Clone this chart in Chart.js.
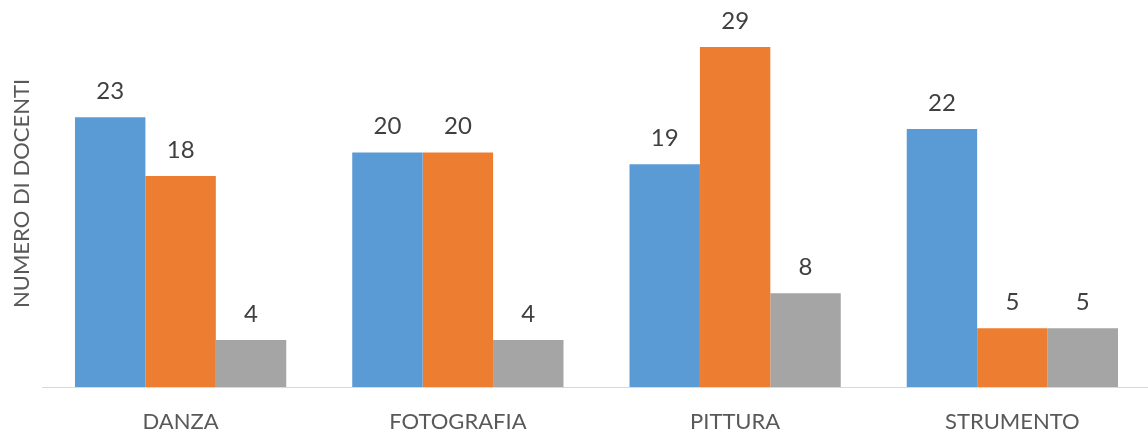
<!DOCTYPE html>
<html>
<head>
<meta charset="utf-8">
<script src="https://cdn.jsdelivr.net/npm/chart.js@4/dist/chart.umd.min.js"></script>
<style>
  html, body { margin: 0; padding: 0; background: #fff; overflow: hidden; }
  #wrap { width: 1151px; height: 439px; position: relative; }
</style>
</head>
<body>
<div id="wrap"><canvas id="docentiChart"></canvas></div>
<script>
const categorie = ['DANZA', 'FOTOGRAFIA', 'PITTURA', 'STRUMENTO'];
const serie1 = [23, 20, 19, 22];
const serie2 = [18, 20, 29, 5];
const serie3 = [4, 4, 8, 5];
const coloriSerie = ['#5B9BD5', '#ED7D31', '#A5A5A5'];
const titoloAsseY = 'NUMERO DI DOCENTI';

// Etichette dei valori sopra le barre
const etichetteValori = {
    id: 'etichetteValori',
    afterDatasetsDraw(chart) {
        const ctx = chart.ctx;
        ctx.save();
        ctx.font = '24px Lato';
        ctx.fillStyle = '#404040';
        ctx.textAlign = 'center';
        ctx.textBaseline = 'alphabetic';
        chart.data.datasets.forEach((ds, i) => {
            chart.getDatasetMeta(i).data.forEach((bar, j) => {
                ctx.fillText(ds.data[j], bar.x, bar.y - 18);
            });
        });
        ctx.restore();
    }
};

const ctx = document.getElementById('docentiChart').getContext('2d');
new Chart(ctx, {
    type: 'bar',
    data: {
        labels: categorie,
        datasets: [serie1, serie2, serie3].map((d, i) => ({
            label: 'Serie ' + (i + 1),
            data: d,
            backgroundColor: coloriSerie[i],
            borderWidth: 0,
            categoryPercentage: 0.762,
            barPercentage: 1
        }))
    },
    options: {
        responsive: true,
        maintainAspectRatio: false,
        animation: false,
        layout: { padding: 0 },
        plugins: {
            legend: { display: false },
            tooltip: { enabled: false }
        },
        scales: {
            x: {
                grid: { display: false },
                border: { display: true, color: '#D9D9D9', width: 1 },
                ticks: { color: '#595959', font: { family: 'Lato', size: 22 }, padding: 14 },
                afterFit(scale) { scale.height = 52; }
            },
            y: {
                min: 0,
                max: 33,
                grid: { display: false },
                border: { display: false },
                ticks: { display: false },
                title: {
                    display: true,
                    text: titoloAsseY,
                    color: '#595959',
                    font: { family: 'Lato', size: 22 },
                    padding: { top: 9, bottom: 0 }
                },
                afterFit(scale) { scale.width = 42; }
            }
        }
    },
    plugins: [etichetteValori]
});
</script>
</body>
</html>
